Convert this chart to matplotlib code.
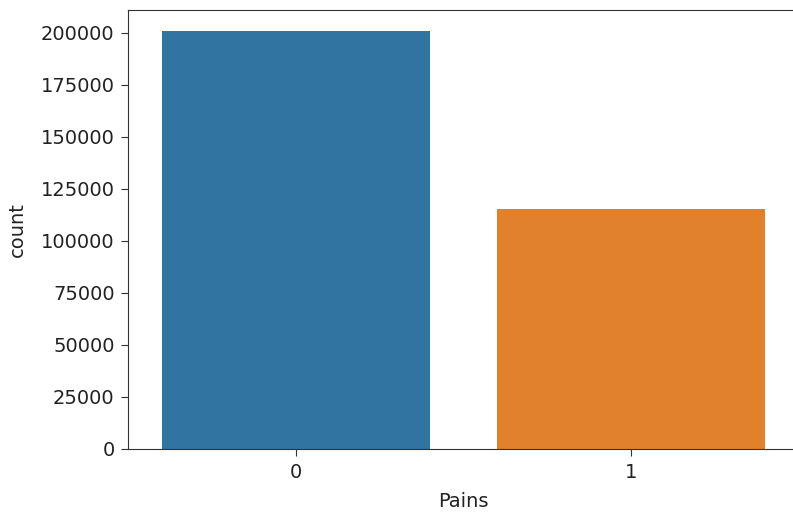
import numpy as np
import matplotlib
matplotlib.use('Agg')
import matplotlib.pyplot as plt

# counts per Pains class
categories = ['0', '1']
counts = [201000, 115500]
colors = ['#3274a1', '#e1812c']

fig = plt.figure(figsize=(7.93, 5.16), dpi=100)
ax = fig.add_axes([0.162, 0.130, 0.845, 0.851])

x = np.arange(len(categories))
ax.bar(x, counts, width=0.8, color=colors)
ax.set_xlim(-0.5, len(categories) - 0.5)
ax.set_ylim(0, max(counts) * 1.05)
ax.set_xticks(x)
ax.set_xticklabels(categories)
ax.set_yticks(np.arange(0, 200001, 25000))
ax.tick_params(labelsize=14, length=5, pad=5, color='#333333', labelcolor='#222222')
ax.set_xlabel('Pains', fontsize=14, color='#222222', labelpad=7)
ax.set_ylabel('count', fontsize=14, color='#222222', labelpad=10)
for s in ax.spines.values():
    s.set_color('#333333')

fig.savefig('out.png', dpi=100)
